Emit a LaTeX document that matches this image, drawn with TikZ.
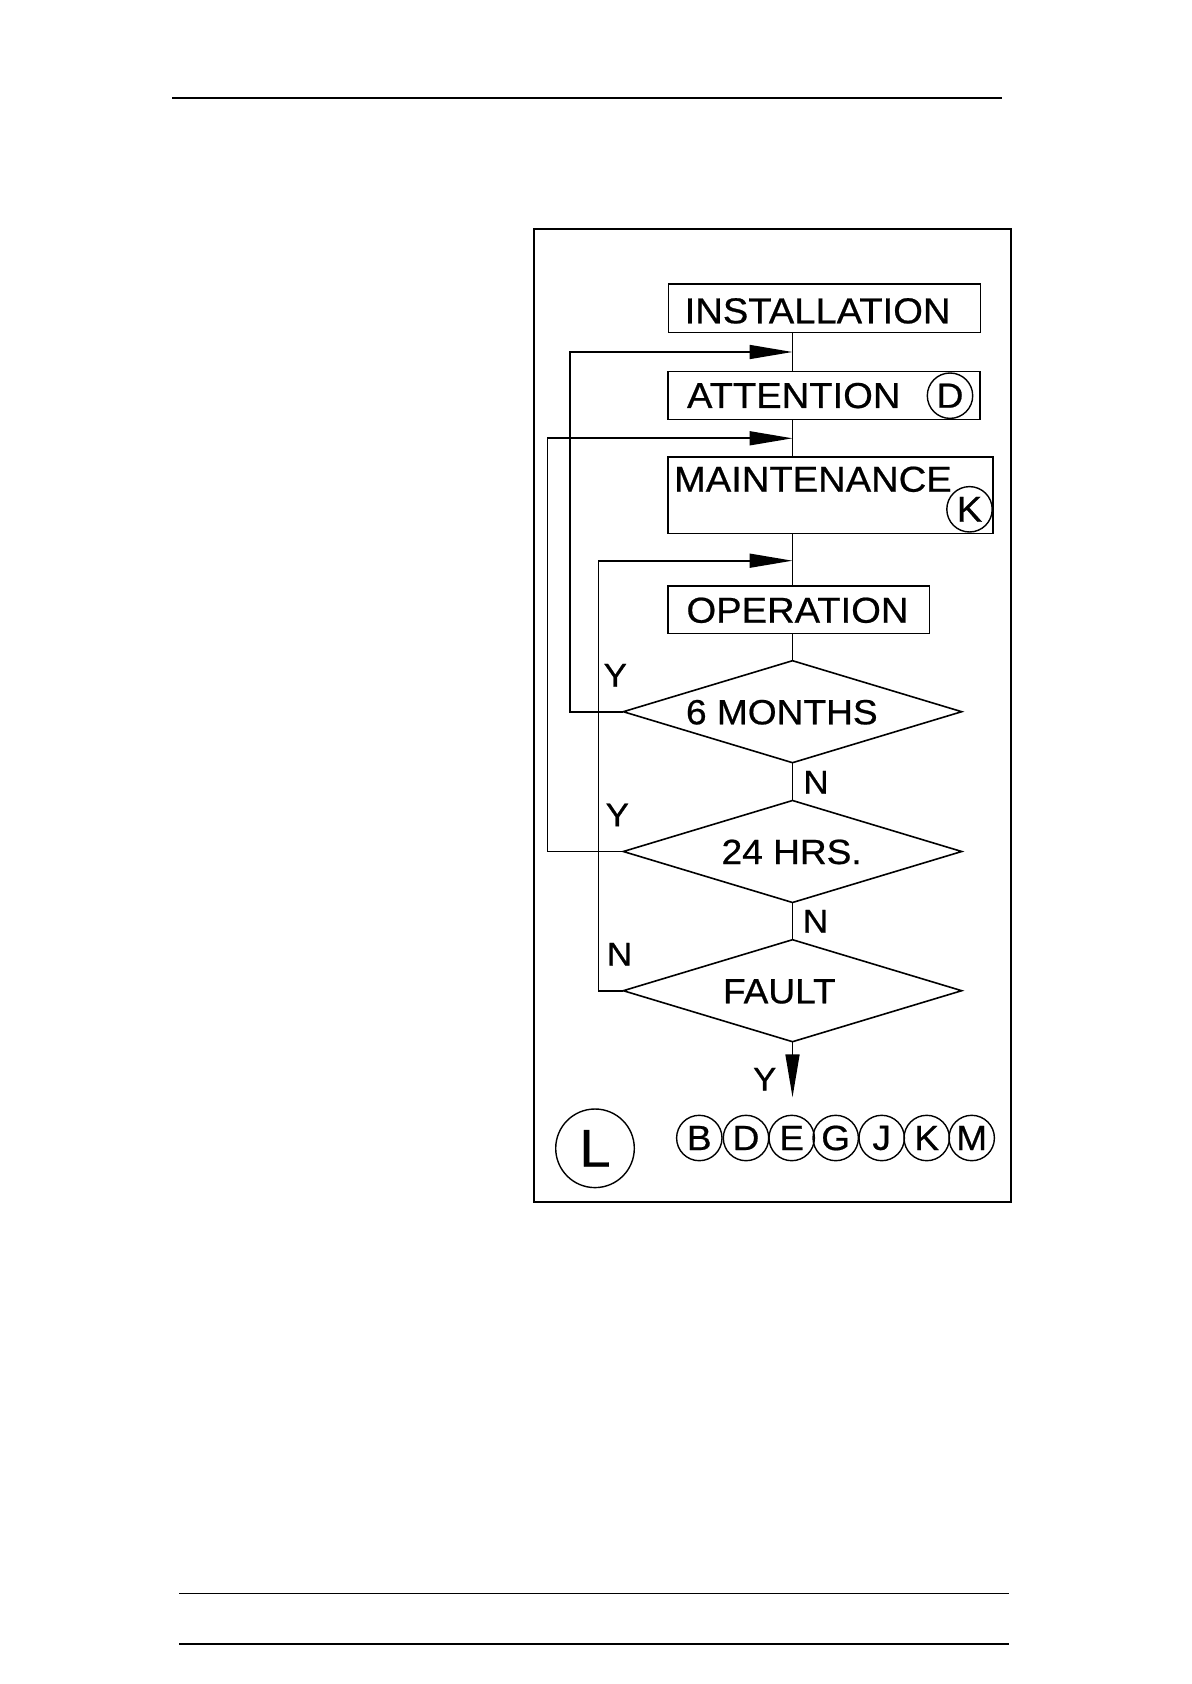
\documentclass[tikz,border=0pt]{standalone}
\usepackage{fontspec}
\setmainfont{Liberation Sans}[FakeStretch=1.06,FakeBold=0.6]
\usetikzlibrary{shapes.geometric,arrows.meta}
\begin{document}
\begin{tikzpicture}[x=0.5pt,y=-0.5pt,
  box/.style={draw,line width=0.8pt,rectangle,inner sep=0pt,outer sep=0pt},
  dia/.style={draw,line width=0.8pt,diamond,inner sep=0pt,outer sep=0pt,minimum width=169.2pt,minimum height=51pt},
  btxt/.style={inner sep=0pt,outer sep=0pt,font=\fontsize{18}{20}\selectfont},
  dtxt/.style={inner sep=0pt,outer sep=0pt,font=\fontsize{17.5}{20}\selectfont},
  yn/.style={inner sep=0pt,outer sep=0pt,font=\fontsize{16.5}{19}\selectfont},
  ring/.style={draw,line width=0.7pt,circle,inner sep=0pt,outer sep=0pt},
  wire/.style={line width=0.8pt},
  arr/.style={line width=0.8pt,-{Triangle[length=21.5pt,width=7pt]}}]
\useasboundingbox (0,0) rectangle (1191,1684);

% page rules
\draw[line width=0.8pt] (172,98.3) -- (1001.7,98.3);
\draw[line width=0.7pt] (179,1593.3) -- (1009.3,1593.3);
\draw[line width=1.2pt] (179,1643.7) -- (1009.3,1643.7);

% frame
\draw[line width=0.9pt] (534.3,229.3) rectangle (1011,1201.7);

% boxes
\node[box,minimum width=156pt,minimum height=24.2pt] (inst) at (824.3,308.5) {};
\node[btxt,anchor=base west] (instT) at (684.7,323.3) {INSTALLATION};
\node[box,minimum width=156pt,minimum height=24pt] (att) at (824,395.7) {};
\node[btxt,anchor=base west] (attT) at (687,408) {ATTENTION};
\node[ring,minimum size=22.7pt,font=\fontsize{17.5}{20}\selectfont] (attD) at (950,395.7) {D};
\node[box,minimum width=162.35pt,minimum height=38.3pt] (maint) at (830.35,495) {};
\node[btxt,anchor=base west] (maintT) at (674,491.7) {MAINTENANCE};
\node[ring,minimum size=22.7pt,font=\fontsize{18}{20}\selectfont] (maintK) at (969.5,509.3) {K};
\node[box,minimum width=130.65pt,minimum height=23.8pt] (oper) at (798.65,609.5) {};
\node[btxt,anchor=base west] (operT) at (686.5,622.7) {OPERATION};

% decisions
\node[dia] (d1) at (792.5,711.7) {};
\node[dtxt,anchor=base west] (d1T) at (686,724.3) {6 MONTHS};
\node[dia] (d2) at (792.5,851.5) {};
\node[dtxt,anchor=base] (d2T) at (791.7,864) {24 HRS.};
\node[dia] (d3) at (792.5,990.7) {};
\node[dtxt,anchor=base west] (d3T) at (723,1003.3) {FAULT};

% junction points on the spine
\coordinate (j1) at (792.5,352);
\coordinate (j2) at (792.5,438.3);
\coordinate (j3) at (792.5,560.7);
\coordinate (l1) at (570,352);
\coordinate (l2) at (547.3,438.3);
\coordinate (l3) at (598.3,560.7);
\coordinate (out) at (792.5,1097.3);

% spine
\draw[wire] (inst.south -| d1.north) -- (att.north -| d1.north);
\draw[wire] (att.south -| d1.north) -- (maint.north -| d1.north);
\draw[wire] (maint.south -| d1.north) -- (oper.north -| d1.north);
\draw[wire] (oper.south -| d1.north) -- (d1.north);
\draw[wire] (d1.south) -- (d2.north);
\draw[wire] (d2.south) -- (d3.north);
\draw[arr] (d3.south) -- (out);

% loops
\draw[arr] (d1.west) -| (l1) -- (j1);
\draw[arr] (d2.west) -| (l2) -- (j2);
\draw[arr] (d3.west) -| (l3) -- (j3);

% Y / N labels
\node[yn] (y1) at (615.3,675.3) {Y};
\node[yn] (n1) at (816,782.3) {N};
\node[yn] (y2) at (617.3,815) {Y};
\node[yn] (n2) at (815.5,921.3) {N};
\node[yn] (n3) at (619.5,954.2) {N};
\node[yn] (y3) at (764.7,1079.2) {Y};

% reference circles
\node[ring,minimum size=39.3pt,font=\fontsize{26.5}{30}\selectfont] (cL) at (595,1148.3) {L};
\begin{scope}[every node/.style={ring,minimum size=22.7pt,font=\fontsize{17.5}{20}\selectfont}]
\node (cB) at (699.3,1138) {B};
\node (cD) at (746,1138) {D};
\node (cE) at (791.7,1138) {E};
\node (cG) at (835.7,1138) {G};
\node (cJ) at (881.7,1138) {J};
\node (cK) at (926.7,1138) {K};
\node (cM) at (971.7,1138) {M};
\end{scope}
\end{tikzpicture}
\end{document}
